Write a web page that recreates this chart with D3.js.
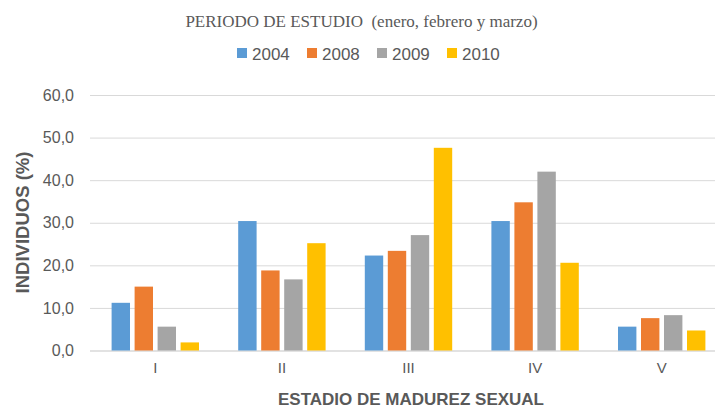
<!DOCTYPE html>
<html>
<head>
<meta charset="utf-8">
<script src="https://cdn.jsdelivr.net/npm/d3@7"></script>
<style>
  body { margin: 0; background: #fff; }
  text { fill: #595959; }
</style>
</head>
<body>
<script>
// chart data
const categories = ["I", "II", "III", "IV", "V"];
const series = ["2004", "2008", "2009", "2010"];
const values2004 = [11.2, 30.4, 22.3, 30.4, 5.6];
const values2008 = [15.0, 18.8, 23.4, 34.8, 7.6];
const values2009 = [5.6, 16.7, 27.1, 42.0, 8.3];
const values2010 = [1.9, 25.2, 47.6, 20.6, 4.7];
const yTicks = [0, 10, 20, 30, 40, 50, 60];
const yTickLabels = ["0,0", "10,0", "20,0", "30,0", "40,0", "50,0", "60,0"];
const colors = ["#5B9BD5", "#ED7D31", "#A5A5A5", "#FFC000"];

const allValues = [values2004, values2008, values2009, values2010];
const rows = categories.map((c, i) => ({
    cat: c,
    vals: series.map((s, j) => ({ key: s, value: allValues[j][i] }))
}));

const width = 715, height = 416;
const svg = d3.select("body").append("svg")
    .attr("width", width)
    .attr("height", height);

// scales
const x0 = d3.scaleBand().domain(categories).range([92, 725]);
const x1 = d3.scaleBand().domain(series).range([-46, 46]).paddingInner(0.2).paddingOuter(0.1);
const y = d3.scaleLinear().domain([0, 60]).range([350.5, 95]);
const color = d3.scaleOrdinal().domain(series).range(colors);

// y axis with gridlines
const yAxis = svg.append("g")
    .attr("transform", "translate(90,0)")
    .call(d3.axisLeft(y)
        .tickValues(yTicks)
        .tickSize(-(width - 90))
        .tickPadding(16)
        .tickFormat((d, i) => yTickLabels[i]));
yAxis.select(".domain").remove();
yAxis.selectAll("line").attr("stroke", "#d9d9d9");
yAxis.selectAll("line").filter(d => d === 0).attr("stroke-width", 1.5);
yAxis.selectAll("text")
    .style("font-family", "'Liberation Sans', Arial, sans-serif")
    .style("font-size", "16px")
    .attr("fill", "#595959");

// bars
svg.selectAll(".grp")
    .data(rows)
    .join("g")
    .attr("class", "grp")
    .attr("transform", d => `translate(${x0(d.cat) + x0.bandwidth() / 2},0)`)
    .selectAll("rect")
    .data(d => d.vals)
    .join("rect")
    .attr("x", d => x1(d.key))
    .attr("y", d => y(d.value))
    .attr("width", x1.bandwidth())
    .attr("height", d => y(0) - y(d.value))
    .attr("fill", d => color(d.key));

// x axis labels
const xAxis = svg.append("g")
    .attr("transform", "translate(0,362)")
    .call(d3.axisBottom(x0).tickSize(0).tickPadding(0));
xAxis.select(".domain").remove();
xAxis.selectAll("text")
    .style("font-family", "'Liberation Sans', Arial, sans-serif")
    .style("font-size", "15px")
    .attr("fill", "#595959");

// axis titles
svg.append("text")
    .attr("x", 411)
    .attr("y", 405)
    .attr("text-anchor", "middle")
    .style("font-family", "'Liberation Sans', Arial, sans-serif")
    .style("font-size", "17px")
    .style("font-weight", "bold")
    .text("ESTADIO DE MADUREZ SEXUAL");

svg.append("text")
    .attr("transform", "translate(28.5,222.5) rotate(-90)")
    .attr("text-anchor", "middle")
    .style("font-family", "'Liberation Sans', Arial, sans-serif")
    .style("font-size", "18.5px")
    .style("font-weight", "bold")
    .text("INDIVIDUOS (%)");

// chart title
svg.append("text")
    .attr("x", 361.5)
    .attr("y", 27)
    .attr("text-anchor", "middle")
    .style("font-family", "'Liberation Serif', 'Times New Roman', serif")
    .style("font-size", "17px")
    .style("white-space", "pre")
    .text("PERIODO DE ESTUDIO  (enero, febrero y marzo)");

// legend
const legend = svg.selectAll(".leg")
    .data(series)
    .join("g")
    .attr("class", "leg")
    .attr("transform", (d, i) => `translate(${237 + i * 70},48)`);
legend.append("rect")
    .attr("width", 10)
    .attr("height", 10)
    .attr("fill", d => color(d));
legend.append("text")
    .attr("x", 15)
    .attr("y", 11.5)
    .style("font-family", "'Liberation Sans', Arial, sans-serif")
    .style("font-size", "17px")
    .text(d => d);
</script>
</body>
</html>
